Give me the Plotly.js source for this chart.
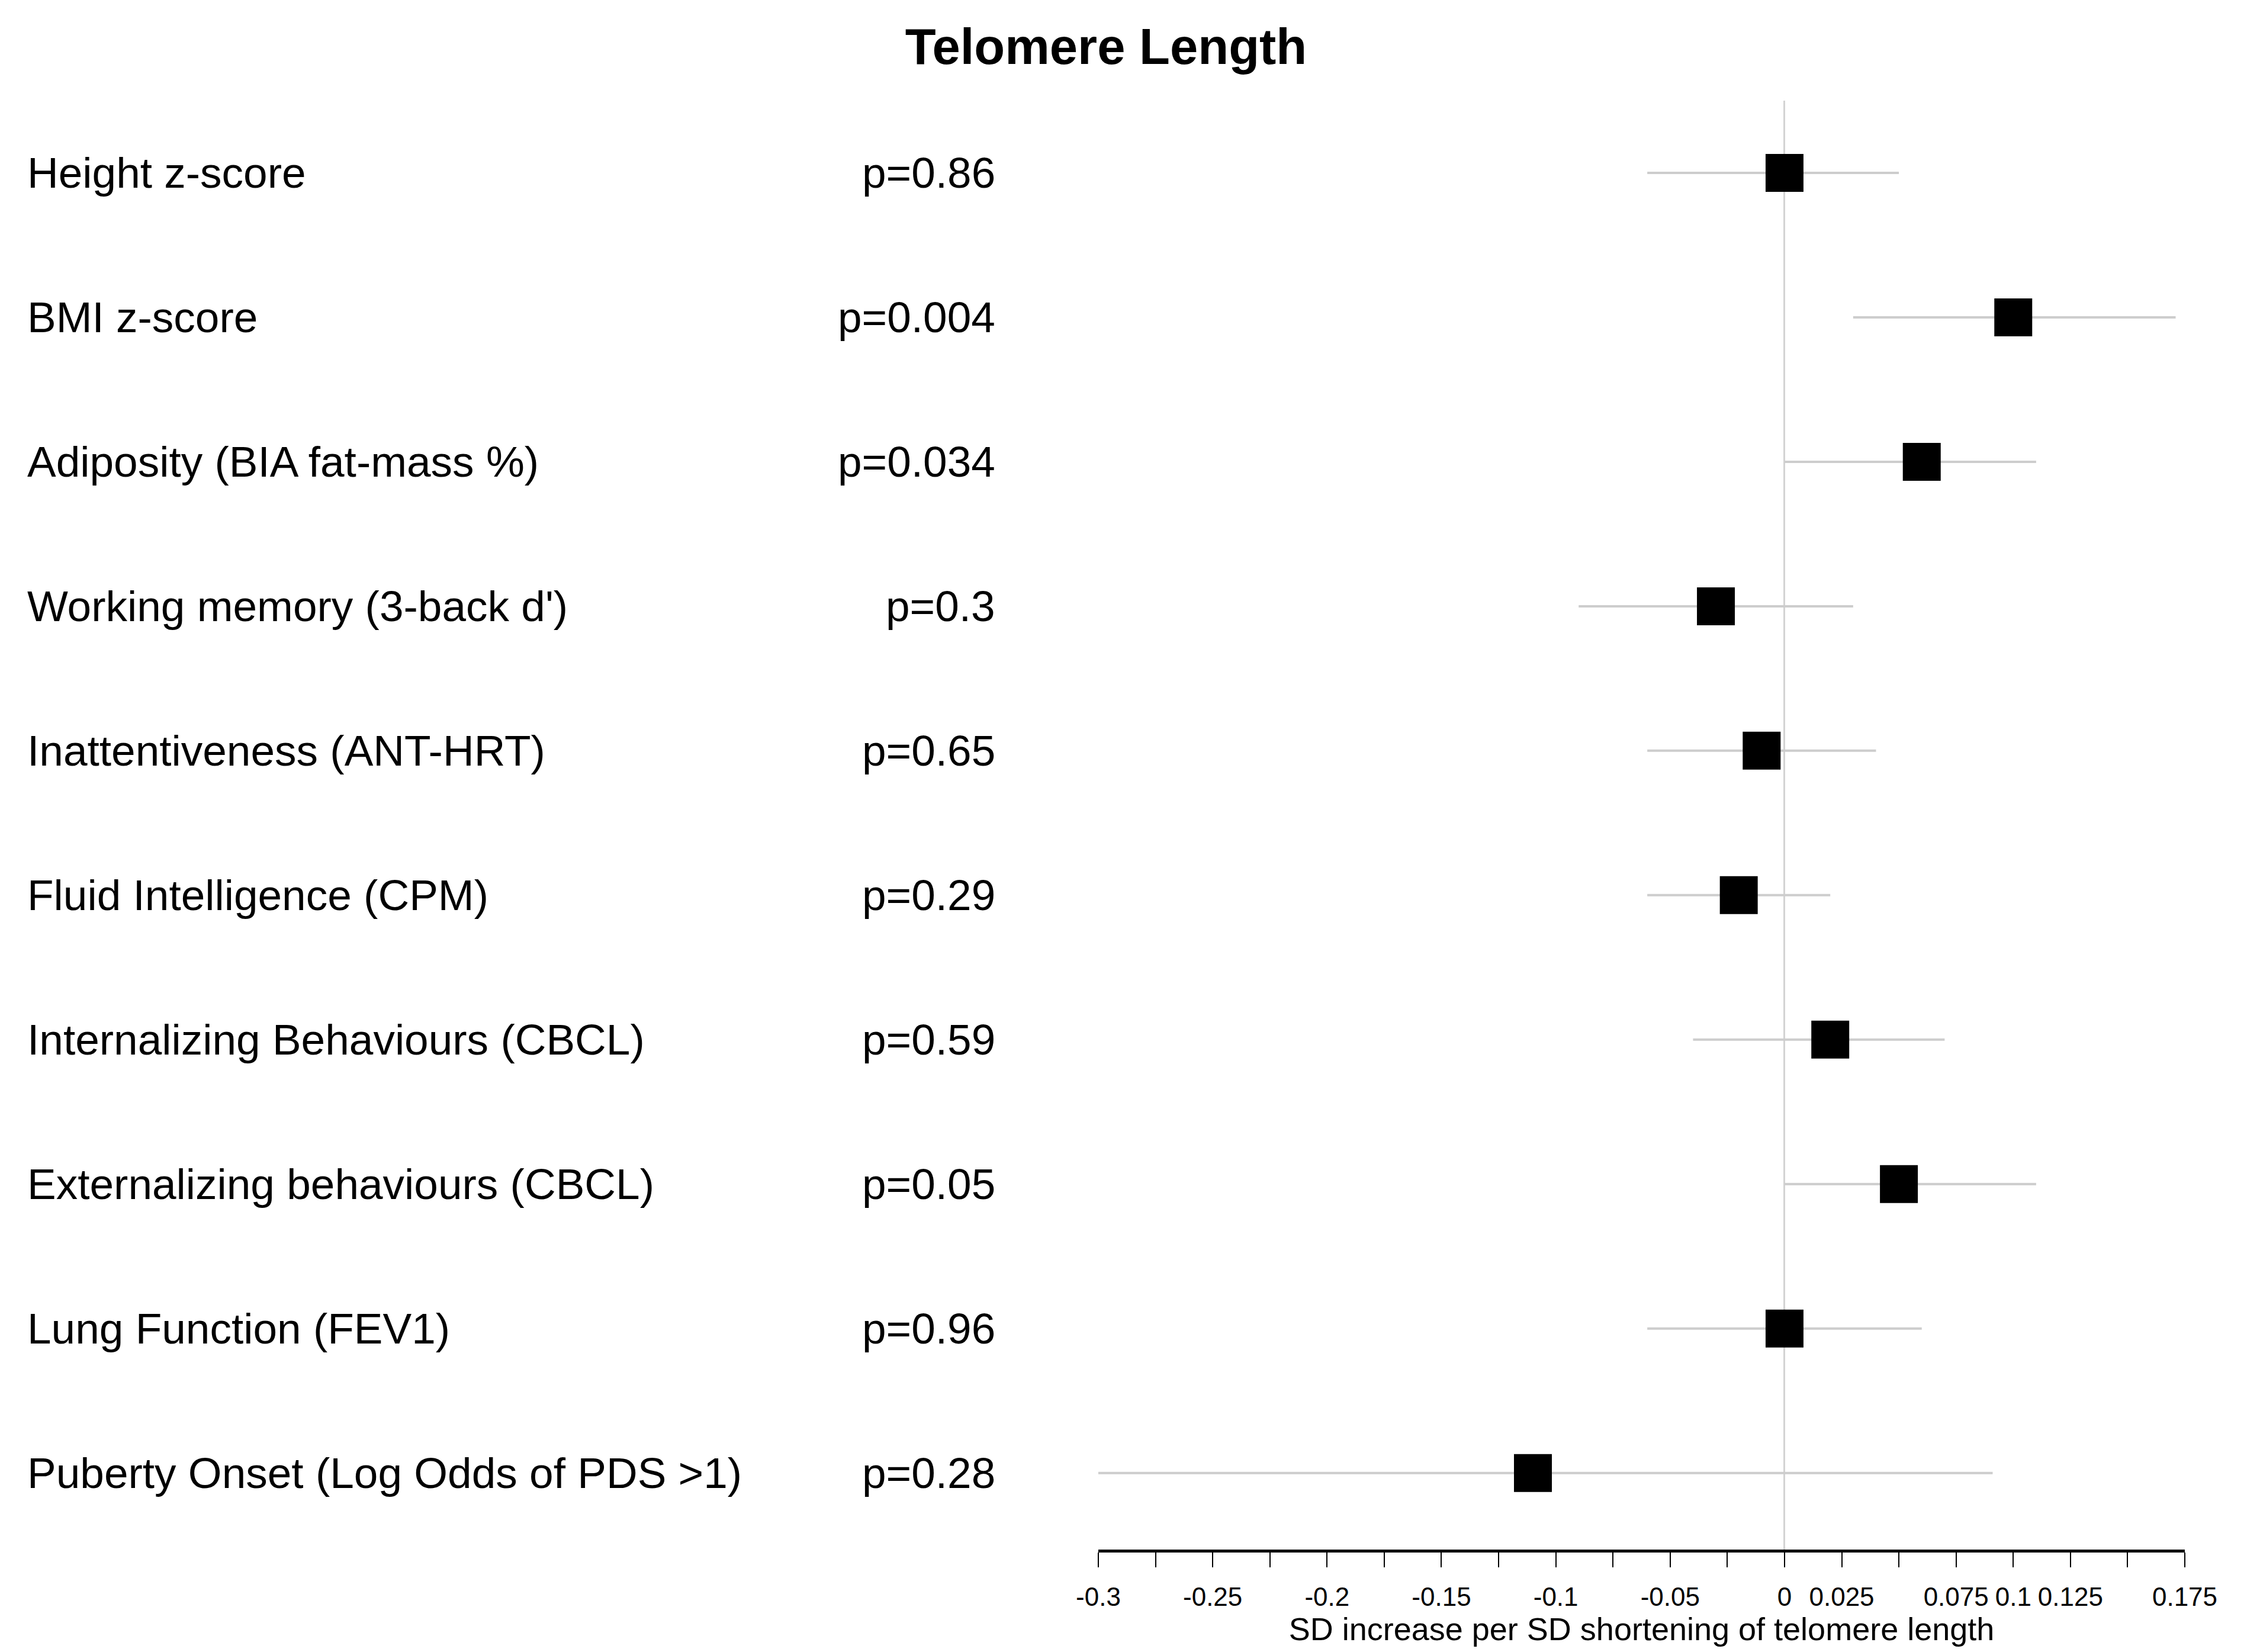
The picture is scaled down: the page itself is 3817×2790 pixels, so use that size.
<!DOCTYPE html>
<html>
<head>
<meta charset="utf-8">
<script src="https://cdn.plot.ly/plotly-3.0.1.min.js"></script>
<style>
  html, body { margin: 0; padding: 0; background: #ffffff; }
  #chart { width: 3817px; height: 2790px; }
</style>
</head>
<body>
<div id="chart"></div>
<script>
// ---- Data ----
const outcomes = [
  "Height z-score",
  "BMI z-score",
  "Adiposity (BIA fat-mass %)",
  "Working memory (3-back d')",
  "Inattentiveness (ANT-HRT)",
  "Fluid Intelligence (CPM)",
  "Internalizing Behaviours (CBCL)",
  "Externalizing behaviours (CBCL)",
  "Lung Function (FEV1)",
  "Puberty Onset (Log Odds of PDS >1)"
];
const pLabels = ["p=0.86", "p=0.004", "p=0.034", "p=0.3", "p=0.65", "p=0.29", "p=0.59", "p=0.05", "p=0.96", "p=0.28"];
const estimate = [0.0, 0.100, 0.060, -0.030, -0.010, -0.020, 0.020, 0.050, 0.0, -0.110];
const ciLower  = [-0.060, 0.030, 0.000, -0.090, -0.060, -0.060, -0.040, 0.000, -0.060, -0.300];
const ciUpper  = [0.050, 0.171, 0.110, 0.030, 0.040, 0.020, 0.070, 0.110, 0.060, 0.091];
const tickValues = [-0.3, -0.275, -0.25, -0.225, -0.2, -0.175, -0.15, -0.125, -0.1, -0.075, -0.05, -0.025, 0, 0.025, 0.05, 0.075, 0.1, 0.125, 0.15, 0.175];
const tickLabels = ["-0.3", "", "-0.25", "", "-0.2", "", "-0.15", "", "-0.1", "", "-0.05", "", "0", "0.025", "", "0.075", "0.1", "0.125", "", "0.175"];

const rows = outcomes.map((_, i) => i);
const FONT = "Liberation Sans, Arial, Helvetica, sans-serif";

const trace = {
  type: "scatter",
  mode: "markers",
  x: estimate,
  y: rows,
  marker: { symbol: "square", size: 64, color: "#000000", line: { width: 0 } },
  error_x: {
    type: "data",
    symmetric: false,
    array: estimate.map((e, i) => ciUpper[i] - e),
    arrayminus: estimate.map((e, i) => e - ciLower[i]),
    width: 0,
    thickness: 4,
    color: "#cdcdcd"
  },
  hoverinfo: "skip",
  showlegend: false
};

const annotations = [];
outcomes.forEach((name, i) => {
  annotations.push({
    xref: "paper", yref: "y", x: -0.987, y: rows[i],
    text: name, showarrow: false, xanchor: "left", yanchor: "middle",
    font: { family: FONT, size: 73, color: "#000000" }
  });
  annotations.push({
    xref: "paper", yref: "y", x: -0.094, y: rows[i],
    text: pLabels[i], showarrow: false, xanchor: "right", yanchor: "middle",
    font: { family: FONT, size: 73, color: "#000000" }
  });
});

const layout = {
  width: 3817,
  height: 2790,
  paper_bgcolor: "#ffffff",
  plot_bgcolor: "#ffffff",
  margin: { l: 1855, r: 127, t: 170, b: 173, pad: 0 },
  title: {
    text: "<b>Telomere Length</b>",
    font: { family: FONT, size: 85, color: "#000000" },
    xref: "container", yref: "container",
    x: 0.4894, y: 0.972, xanchor: "center", yanchor: "middle"
  },
  xaxis: {
    range: [-0.3, 0.175],
    tickmode: "array",
    tickvals: tickValues,
    ticktext: tickLabels,
    tickfont: { family: FONT, size: 44, color: "#000000" },
    ticks: "outside",
    ticklen: 25,
    tickwidth: 2,
    tickcolor: "#000000",
    ticklabelstandoff: 12,
    showline: true,
    linecolor: "#000000",
    linewidth: 5,
    showgrid: false,
    zeroline: true,
    zerolinecolor: "#d3d3d3",
    zerolinewidth: 3,
    fixedrange: true,
    automargin: false,
    title: {
      text: "SD increase per SD shortening of telomere length",
      font: { family: FONT, size: 54, color: "#000000" },
      standoff: 6
    }
  },
  yaxis: {
    range: [9.53, -0.5],
    showticklabels: false,
    showgrid: false,
    zeroline: false,
    showline: false,
    ticks: "",
    fixedrange: true
  },
  annotations: annotations,
  showlegend: false,
  hovermode: false
};

Plotly.newPlot("chart", [trace], layout, { staticPlot: true, displayModeBar: false });
</script>
</body>
</html>
